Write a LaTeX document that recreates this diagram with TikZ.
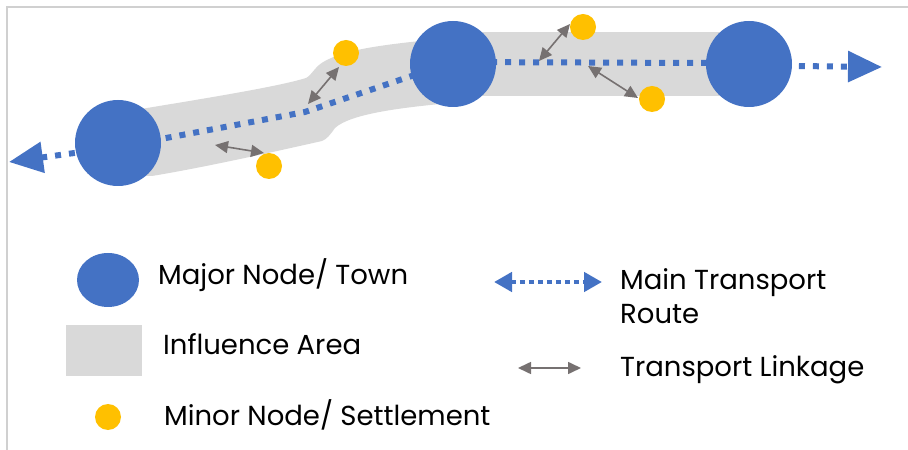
\documentclass[tikz,border=0pt]{standalone}
\usepackage{fontspec}
\setmainfont{Poppins}
\usetikzlibrary{arrows.meta,shapes.geometric}
\definecolor{majblue}{HTML}{4472C4}
\definecolor{minyel}{HTML}{FFC000}
\definecolor{bandgray}{HTML}{D9D9D9}
\definecolor{linkgray}{HTML}{767171}
\definecolor{framegray}{HTML}{D0D0D0}
\tikzset{
  major/.style={circle, fill=majblue, minimum size=86bp, inner sep=0pt},
  minor/.style={circle, fill=minyel, minimum size=26bp, inner sep=0pt, outer sep=0pt},
  route/.style={majblue, line width=6bp, dash pattern=on 6bp off 8bp,
    {Triangle[length=34bp,width=30bp]}-{Triangle[length=34bp,width=30bp]}},
  legroute/.style={majblue, line width=4.5bp, dash pattern=on 5bp off 4bp,
    {Triangle[length=18bp,width=19bp]}-{Triangle[length=18bp,width=19bp]}},
  link/.style={linkgray, line width=1.6bp,
    {Triangle[length=13bp,width=12bp]}-{Triangle[length=13bp,width=12bp]}},
  lbl/.style={anchor=base west, inner sep=0pt, font=\fontsize{27.5bp}{34bp}\selectfont, text=black}
}
\begin{document}
\begin{tikzpicture}[x=1bp, y=-1bp]
\useasboundingbox (0,0) rectangle (908,450);
% frame
\draw[framegray, line width=2bp] (7,450) -- (7,7) -- (908,7);
% influence areas
\fill[bandgray] (120,112) -- (147,108) .. controls (220,96) and (280,86) .. (306,78)
  .. controls (312,75) and (315,66) .. (325,61) .. controls (345,50) and (380,45) .. (430,40)
  -- (440,104) .. controls (400,108) and (350,114) .. (335,128)
  .. controls (330,135) and (327,139) .. (322,141) .. controls (260,155) and (200,168) .. (152,176)
  -- (120,176) -- cycle;
\fill[bandgray] (453,32) rectangle (749,96);
% route
\coordinate (Ltip) at (9,162);
\coordinate (r1) at (118,147);
\coordinate (k1) at (305,112);
\coordinate (r2) at (453,62);
\coordinate (r3) at (706,63);
\coordinate (r4) at (795,66);
\coordinate (Rtip) at (882,67);
\draw[route] (Ltip) -- (r1) -- (k1) -- (r2) -- (r3) -- (r4) -- (Rtip);
% major nodes
\node[major] (N1) at (118,143) {};
\node[major] (N2) at (453,64) {};
\node[major] (N3) at (749,64) {};
% minor nodes
\node[minor] (m1) at (346,53) {};
\node[minor] (m2) at (269,166) {};
\node[minor] (m3) at (583,27) {};
\node[minor] (m4) at (652,99) {};
% linkages
\coordinate (c1) at (308,104);
\coordinate (c2) at (215,145);
\coordinate (c3) at (539,61);
\coordinate (c4) at (588,66);
\coordinate (e1) at (339,67);
\coordinate (e2) at (264,153);
\coordinate (e3) at (570,24);
\coordinate (e4) at (638,98);
\draw[link] (c1) -- (e1);
\draw[link] (c2) -- (e2);
\draw[link] (c3) -- (e3);
\draw[link] (c4) -- (e4);
% legend
\node[ellipse, fill=majblue, minimum width=62bp, minimum height=54bp, inner sep=0pt] (lg1) at (108,280) {};
\node[lbl] (t1) at (158,285) {Major Node/ Town};
\node[fill=bandgray, minimum width=76bp, minimum height=51bp, inner sep=0pt] (lg2) at (104,351) {};
\node[lbl] (t2) at (163,355) {Influence Area};
\node[minor] (lg3) at (108,417) {};
\node[lbl] (t3) at (164,425) {Minor Node/ Settlement};
\coordinate (lr1) at (494,282);
\coordinate (lr2) at (602,282);
\draw[legroute] (lr1) -- (lr2);
\node[lbl] (t4) at (620,290) {Main Transport};
\node[lbl] (t4b) at (620,324) {Route};
\coordinate (ll1) at (518,368);
\coordinate (ll2) at (581,368);
\draw[link] (ll1) -- (ll2);
\node[lbl] (t5) at (620,377) {Transport Linkage};
\end{tikzpicture}
\end{document}
